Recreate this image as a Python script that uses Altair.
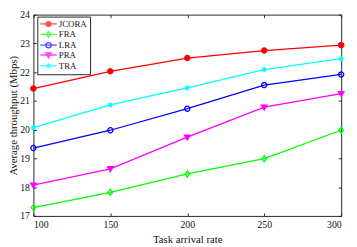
import altair as alt
import pandas as pd

# ---- data ----
series = ["JCORA", "FRA", "LRA", "PRA", "TRA"]
arrival_rate = [100, 150, 200, 250, 300]
jcora = [21.43, 22.03, 22.49, 22.75, 22.94]
fra = [17.29, 17.82, 18.46, 18.99, 19.98]
lra = [19.36, 19.98, 20.73, 21.55, 21.92]
pra = [18.07, 18.64, 19.74, 20.78, 21.25]
tra = [20.07, 20.86, 21.45, 22.09, 22.47]
x_ticks = [100, 150, 200, 250, 300]
y_ticks = [17, 18, 19, 20, 21, 22, 23, 24]

# ---- styles ----
colors = ["#ff0000", "#00ff00", "#0000ff", "#ff00ff", "#00ffff"]
fills = ["#ff0000", "transparent", "transparent", "#ff00ff", "transparent"]
marker_paths = [
    "M-1,0A1,1 0 1,0 1,0A1,1 0 1,0 -1,0Z",
    "M0,-1.2L0.85,0L0,1.2L-0.85,0Z",
    "M-1,0A1,1 0 1,0 1,0A1,1 0 1,0 -1,0Z",
    "M-1.1,-0.8L1.1,-0.8L0,1.1Z",
    "M-1,0H1M0,-1V1M-0.7,-0.7L0.7,0.7M-0.7,0.7L0.7,-0.7",
]
# legend symbols: a line segment with the marker (unit = 3.5px)
LINE = "M-2.4,0H2.4"
legend_paths = [
    LINE + "M-0.7,0A0.7,0.7 0 1,0 0.7,0A0.7,0.7 0 1,0 -0.7,0Z"
    "M-0.35,0A0.35,0.35 0 1,0 0.35,0A0.35,0.35 0 1,0 -0.35,0Z",
    LINE + "M0,-0.85L0.6,0L0,0.85L-0.6,0Z",
    LINE + "M-0.78,0A0.78,0.78 0 1,0 0.78,0A0.78,0.78 0 1,0 -0.78,0Z",
    LINE + "M-0.85,-0.6L0.85,-0.6L0,0.85ZM-0.42,-0.36L0.42,-0.36L0,0.33ZM0,-0.3V0.05",
    LINE + "M0,-0.75V0.75M-0.55,-0.55L0.55,0.55M-0.55,0.55L0.55,-0.55",
]

rows = []
for name, vals in zip(series, [jcora, fra, lra, pra, tra]):
    for xv, yv in zip(arrival_rate, vals):
        rows.append({"series": name, "rate": xv, "thr": yv})
df = pd.DataFrame(rows)

FONT = "Liberation Serif"
AX = "#262626"
TXT = "#111111"

xscale = alt.Scale(domain=[100, 300], nice=False, zero=False)
yscale = alt.Scale(domain=[17, 24], nice=False, zero=False)


def cscale():
    return alt.Scale(domain=series, range=colors)


base = alt.Chart(df)

lines = base.mark_line(strokeWidth=1.3).encode(
    x=alt.X("rate:Q", scale=xscale, axis=alt.Axis(
        values=x_ticks, offset=-3, tickSize=3, domain=False, grid=False,
        labelPadding=4, title="Task arrival rate", titlePadding=4,
        labelFont=FONT, titleFont=FONT, labelFontSize=10, titleFontSize=11,
        titleFontWeight="normal", labelColor=TXT, titleColor=TXT,
        tickColor=AX)),
    y=alt.Y("thr:Q", scale=yscale, axis=alt.Axis(
        values=y_ticks, offset=-3, tickSize=3, domain=False, grid=False,
        labelPadding=4, title="Average throughput (Mbps)", titlePadding=1,
        labelFont=FONT, titleFont=FONT, labelFontSize=10, titleFontSize=11,
        titleFontWeight="normal", labelColor=TXT, titleColor=TXT,
        tickColor=AX)),
    color=alt.Color("series:N", scale=cscale(), legend=None),
    detail="series:N",
)

points = base.mark_point(size=28, strokeWidth=1.3, filled=False, opacity=1).encode(
    x=alt.X("rate:Q", scale=xscale, axis=alt.Axis(
        orient="top", values=x_ticks, offset=-3, tickSize=3, domain=False,
        grid=False, labels=False, title=None, tickColor=AX)),
    y=alt.Y("thr:Q", scale=yscale, axis=alt.Axis(
        orient="right", values=y_ticks, offset=-3, tickSize=3, domain=False,
        grid=False, labels=False, title=None, tickColor=AX)),
    color=alt.Color("series:N", scale=cscale(), legend=None),
    fill=alt.Fill("series:N", scale=alt.Scale(domain=series, range=fills), legend=None),
    shape=alt.Shape("series:N", scale=alt.Scale(domain=series, range=marker_paths), legend=None),
)

legend_spec = dict(
    title=None, orient="none", legendX=4, legendY=2, padding=3,
    strokeColor=AX, fillColor="white", symbolSize=49,
    symbolStrokeWidth=1.3, symbolOffset=4, labelOffset=6,
    rowPadding=-1.2, labelFont=FONT, labelFontSize=9, labelColor=TXT,
)

legend_layer = base.mark_point(size=49, strokeWidth=1.3, filled=False).encode(
    x=alt.X("rate:Q", scale=xscale, axis=None),
    y=alt.Y("thr:Q", scale=yscale, axis=None),
    color=alt.Color("series:N", scale=cscale(), legend=alt.Legend(**legend_spec)),
    shape=alt.Shape("series:N", scale=alt.Scale(domain=series, range=legend_paths),
                    legend=alt.Legend(**legend_spec)),
).transform_filter("false")

chart = alt.layer(lines, points, legend_layer).resolve_scale(
    color="independent", shape="independent"
).resolve_axis(
    x="independent", y="independent"
).properties(
    width=315, height=206,
    padding={"left": 26, "top": 4, "right": 8, "bottom": 29},
    autosize="none",
    background="white",
).configure_view(stroke=AX, strokeWidth=1)

chart.save("out.html", embed_options={"renderer": "svg", "actions": False})
